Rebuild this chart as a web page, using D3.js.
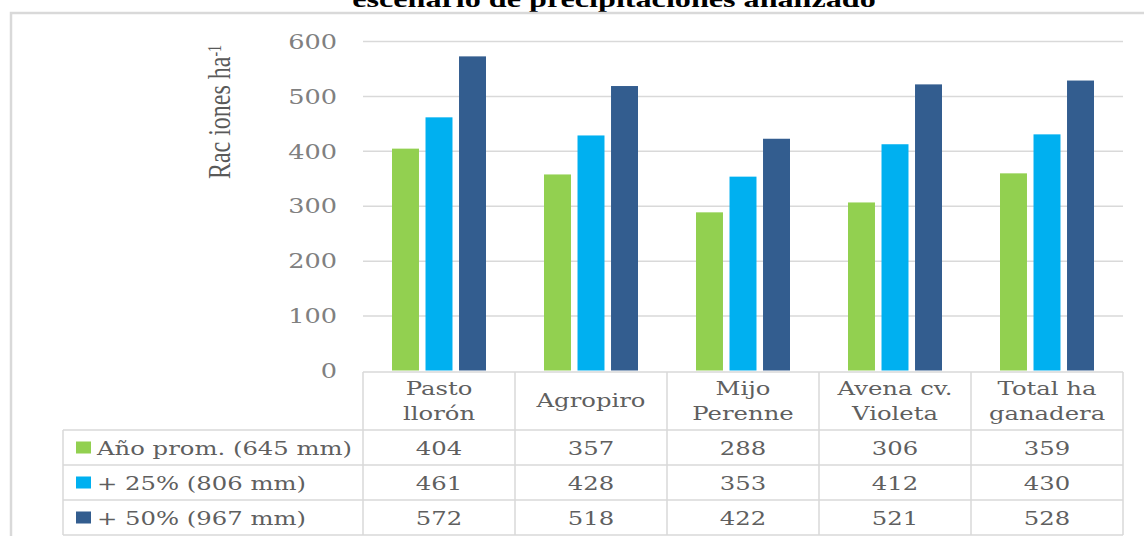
<!DOCTYPE html>
<html>
<head>
<meta charset="utf-8">
<script src="https://cdn.jsdelivr.net/npm/d3@7"></script>
<style>
  body { margin: 0; background: #fff; }
  svg { display: block; }
</style>
</head>
<body>
<svg></svg>
<script>
'use strict'

const WIDTH = 1144;
const HEIGHT = 536;

// data
const categories = ['Pasto\nllorón', 'Agropiro', 'Mijo\nPerenne', 'Avena cv.\nVioleta', 'Total ha\nganadera'];
const seriesNames = ['Año prom. (645 mm)', '+ 25% (806 mm)', '+ 50% (967 mm)'];
const avgYear = [404, 357, 288, 306, 359];
const plus25 = [461, 428, 353, 412, 430];
const plus50 = [572, 518, 422, 521, 528];
const yTicks = [0, 100, 200, 300, 400, 500, 600];

const seriesValues = [avgYear, plus25, plus50];
const colors = ['#92d050', '#00b0f0', '#335d8f'];

// layout
const PLOT_LEFT = 363;
const PLOT_RIGHT = 1123;
const PLOT_TOP = 41;
const PLOT_BOTTOM = 372;
const LEGEND_LEFT = 63;
const HEADER_BOTTOM = 430;
const ROW_H = 35;
const SX = 1.28; // source picture is stretched horizontally
const GRID = '#d9d9d9';

const svg = d3.select('svg')
  .attr('width', WIDTH)
  .attr('height', HEIGHT);

// title, mostly cut off at the top (as in the source)
svg.append('text')
  .attr('transform', 'translate(614,7) scale(1.34,1)')
  .attr('text-anchor', 'middle')
  .style('font-family', 'Liberation Serif')
  .style('font-weight', 'bold')
  .style('font-size', '24px')
  .text('escenario de precipitaciones analizado');

// outer box
svg.append('path')
  .attr('d', 'M11,' + HEIGHT + 'V13H' + WIDTH)
  .attr('fill', 'none')
  .attr('stroke', '#d9d9d9')
  .attr('stroke-width', 2.5);

let x0 = d3.scaleBand()
  .domain(d3.range(categories.length))
  .range([PLOT_LEFT, PLOT_RIGHT])
  .paddingInner(0.3816)
  .paddingOuter(0.1908);

let x1 = d3.scaleBand()
  .domain(d3.range(seriesNames.length))
  .range([0, x0.bandwidth()])
  .paddingInner(0.195);

let yScale = d3.scaleLinear()
  .domain([0, 600])
  .range([PLOT_BOTTOM - 1.5, PLOT_TOP]);

// gridlines + tick labels
let leftAxis = d3.axisLeft(yScale)
  .tickValues(yTicks)
  .tickSize(0)
  .tickFormat(d3.format('d'));

let axisG = svg.append('g')
  .attr('id', 'left-axis')
  .attr('transform', 'translate(' + PLOT_LEFT + ',0)')
  .call(leftAxis);
axisG.select('.domain').remove();
axisG.selectAll('.tick')
  .filter(d => d > 0)
  .append('line')
  .attr('x2', PLOT_RIGHT - PLOT_LEFT)
  .attr('stroke', GRID)
  .attr('stroke-width', 1.5);
axisG.selectAll('.tick text')
  .attr('x', 0)
  .attr('dy', '0.36em')
  .attr('transform', 'translate(-26,0) scale(' + SX + ',1)')
  .attr('fill', '#808080')
  .style('font-family', 'DejaVu Serif')
  .style('font-size', '20px');

// y axis title
let yLabel = svg.append('text')
  .attr('transform', 'translate(230,112) scale(' + SX + ',1) rotate(-90)')
  .attr('text-anchor', 'middle')
  .attr('fill', '#595959')
  .style('font-family', 'Liberation Serif')
  .style('font-size', '24px');
yLabel.append('tspan').text('Rac iones ha');
yLabel.append('tspan').attr('dy', '-0.5em').style('font-size', '14px').text('-1');

// bars
let groups = svg.append('g')
  .selectAll('g')
  .data(seriesValues)
  .enter().append('g')
  .attr('fill', (d, i) => colors[i]);

groups.selectAll('rect')
  .data((values, s) => values.map((v, c) => ({ s: s, c: c, v: v })))
  .enter().append('rect')
  .attr('x', d => x0(d.c) + x1(d.s))
  .attr('y', d => yScale(d.v))
  .attr('width', x1.bandwidth())
  .attr('height', d => yScale(0) - yScale(d.v));

// data table
const tableBottom = HEADER_BOTTOM + ROW_H * seriesNames.length;
let table = svg.append('g').attr('stroke', GRID).attr('stroke-width', 1.5).attr('fill', 'none');

// horizontal lines
table.append('line')
  .attr('x1', PLOT_LEFT).attr('x2', PLOT_RIGHT)
  .attr('y1', PLOT_BOTTOM).attr('y2', PLOT_BOTTOM);
table.selectAll('.hrow')
  .data(d3.range(seriesNames.length + 1))
  .enter().append('line')
  .attr('x1', LEGEND_LEFT).attr('x2', PLOT_RIGHT)
  .attr('y1', i => HEADER_BOTTOM + i * ROW_H)
  .attr('y2', i => HEADER_BOTTOM + i * ROW_H);

// vertical lines
table.append('line')
  .attr('x1', LEGEND_LEFT).attr('x2', LEGEND_LEFT)
  .attr('y1', HEADER_BOTTOM).attr('y2', tableBottom);
table.selectAll('.vcol')
  .data(d3.range(categories.length + 1))
  .enter().append('line')
  .attr('x1', i => i < categories.length ? x0(i) - x0.step() * 0.1908 : PLOT_RIGHT)
  .attr('x2', i => i < categories.length ? x0(i) - x0.step() * 0.1908 : PLOT_RIGHT)
  .attr('y1', PLOT_BOTTOM).attr('y2', tableBottom);

const textStyle = sel => sel
  .attr('fill', '#5f5f5f')
  .style('font-family', 'DejaVu Serif')
  .style('font-size', '19px');

// category headers
categories.forEach((label, c) => {
  const lines = label.split('\n');
  const cx = x0(c) + x0.bandwidth() / 2;
  const cy = (PLOT_BOTTOM + HEADER_BOTTOM) / 2;
  lines.forEach((line, k) => {
    svg.append('text')
      .attr('transform', 'translate(' + cx + ',' + (cy + 6 + (k - (lines.length - 1) / 2) * 25) + ') scale(' + SX + ',1)')
      .attr('text-anchor', 'middle')
      .call(textStyle)
      .text(line);
  });
});

// rows: legend key + values
seriesNames.forEach((name, s) => {
  const cy = HEADER_BOTTOM + s * ROW_H + ROW_H / 2;
  svg.append('rect')
    .attr('x', 76).attr('y', cy - 6)
    .attr('width', 15).attr('height', 12)
    .attr('fill', colors[s]);
  svg.append('text')
    .attr('transform', 'translate(97,' + (cy + 7) + ') scale(' + SX + ',1)')
    .call(textStyle)
    .text(name);
  seriesValues[s].forEach((v, c) => {
    svg.append('text')
      .attr('transform', 'translate(' + (x0(c) + x0.bandwidth() / 2) + ',' + (cy + 7) + ') scale(' + SX + ',1)')
      .attr('text-anchor', 'middle')
      .call(textStyle)
      .text(v);
  });
});
</script>
</body>
</html>
